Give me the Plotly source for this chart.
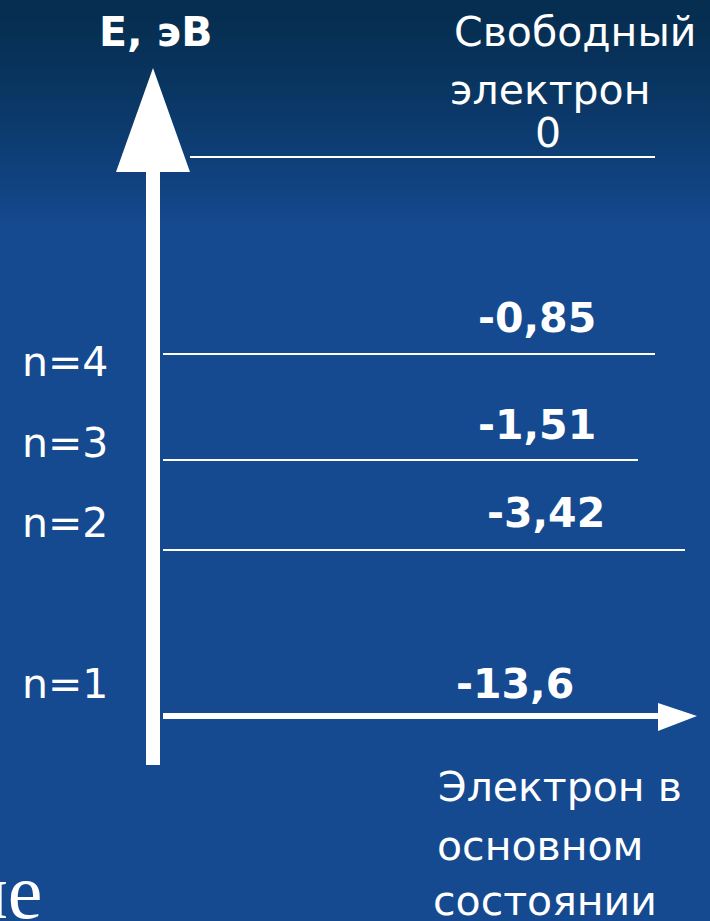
import numpy as np
import plotly.graph_objects as go

# Data
energies = ["0", "-0,85", "-1,51", "-3,42", "-13,6"]
levels_n = ["n=4", "n=3", "n=2", "n=1"]
axis_title = "E, эВ"
top_label = ["Свободный", "электрон"]
bottom_label = ["Электрон в", "основном", "состоянии"]

# schematic layout positions (diagram coordinates, pixel-like)
W, H = 710, 921
level_y = [157, 354, 460, 550, 716]
level_x0 = [190, 163, 163, 163, 163]
level_x1 = [655, 655, 638, 685, 660]
energy_label_xy = [(548, 133), (537, 318), (537, 425), (546, 513), (515, 684)]
n_label_xy = [(65, 362), (65, 443), (65, 523), (65, 684)]

FONT = "DejaVu Sans"
WHITE = "white"

fig = go.Figure()
shapes = []

# background gradient (darker at top)
top = np.array([6, 46, 80])
mid = np.array([21, 74, 145])
steps = 40
span = 230
for i in range(steps):
    y0 = i * span / steps
    y1 = (i + 1) * span / steps + 1
    t = (i / (steps - 1)) ** 1.3
    c = top + (mid - top) * t
    shapes.append(dict(type="rect", xref="x", yref="y", x0=0, x1=W, y0=y0, y1=y1,
                       fillcolor="rgb(%d,%d,%d)" % tuple(c.astype(int)), line=dict(width=0), layer="below"))

# level lines
for i in range(4):
    shapes.append(dict(type="line", xref="x", yref="y", x0=level_x0[i], x1=level_x1[i],
                       y0=level_y[i], y1=level_y[i], line=dict(color=WHITE, width=2)))

# vertical axis shaft
shapes.append(dict(type="rect", xref="x", yref="y", x0=146, x1=160, y0=168, y1=765,
                   fillcolor=WHITE, line=dict(width=0)))
# vertical arrowhead
shapes.append(dict(type="path", xref="x", yref="y", path="M 116 172 L 153 68 L 190 172 Z",
                   fillcolor=WHITE, line=dict(width=0)))
# horizontal ground-state arrow
shapes.append(dict(type="rect", xref="x", yref="y", x0=163, x1=660, y0=713, y1=719,
                   fillcolor=WHITE, line=dict(width=0)))
shapes.append(dict(type="path", xref="x", yref="y", path="M 658 703 L 697 716 L 658 731 Z",
                   fillcolor=WHITE, line=dict(width=0)))

annotations = []
def txt(x, y, s, size=41, bold=False, family=FONT, xanchor="center"):
    annotations.append(dict(x=x, y=y, xref="x", yref="y", text=("<b>%s</b>" % s) if bold else s,
                            showarrow=False, xanchor=xanchor, yanchor="middle",
                            font=dict(family=family, size=size, color=WHITE)))

txt(155, 32, axis_title, size=41, bold=True)
txt(575, 32, top_label[0])
txt(550, 90, top_label[1])
for s, (x, y) in zip(energies, energy_label_xy):
    txt(x, y, s, bold=(s != "0"))
for s, (x, y) in zip(levels_n, n_label_xy):
    txt(x, y, s)
txt(560, 787, bottom_label[0])
txt(540, 846, bottom_label[1])
txt(545, 901, bottom_label[2])
txt(44, 891, "ие", size=78, family="Liberation Serif", xanchor="right")

fig.update_layout(
    width=W, height=H,
    margin=dict(l=0, r=0, t=0, b=0),
    paper_bgcolor="rgb(21,74,145)", plot_bgcolor="rgba(0,0,0,0)",
    xaxis=dict(range=[0, W], visible=False, fixedrange=True),
    yaxis=dict(range=[H, 0], visible=False, fixedrange=True),
    shapes=shapes, annotations=annotations, showlegend=False,
)
fig.write_html("out.html", config={"displayModeBar": False})

with open("out.html", encoding="utf-8") as f:
    html = f.read()
html = html.replace("<head>", "<head><style>html,body{margin:0;padding:0;overflow:hidden;}</style>", 1)
with open("out.html", "w", encoding="utf-8") as f:
    f.write(html)
